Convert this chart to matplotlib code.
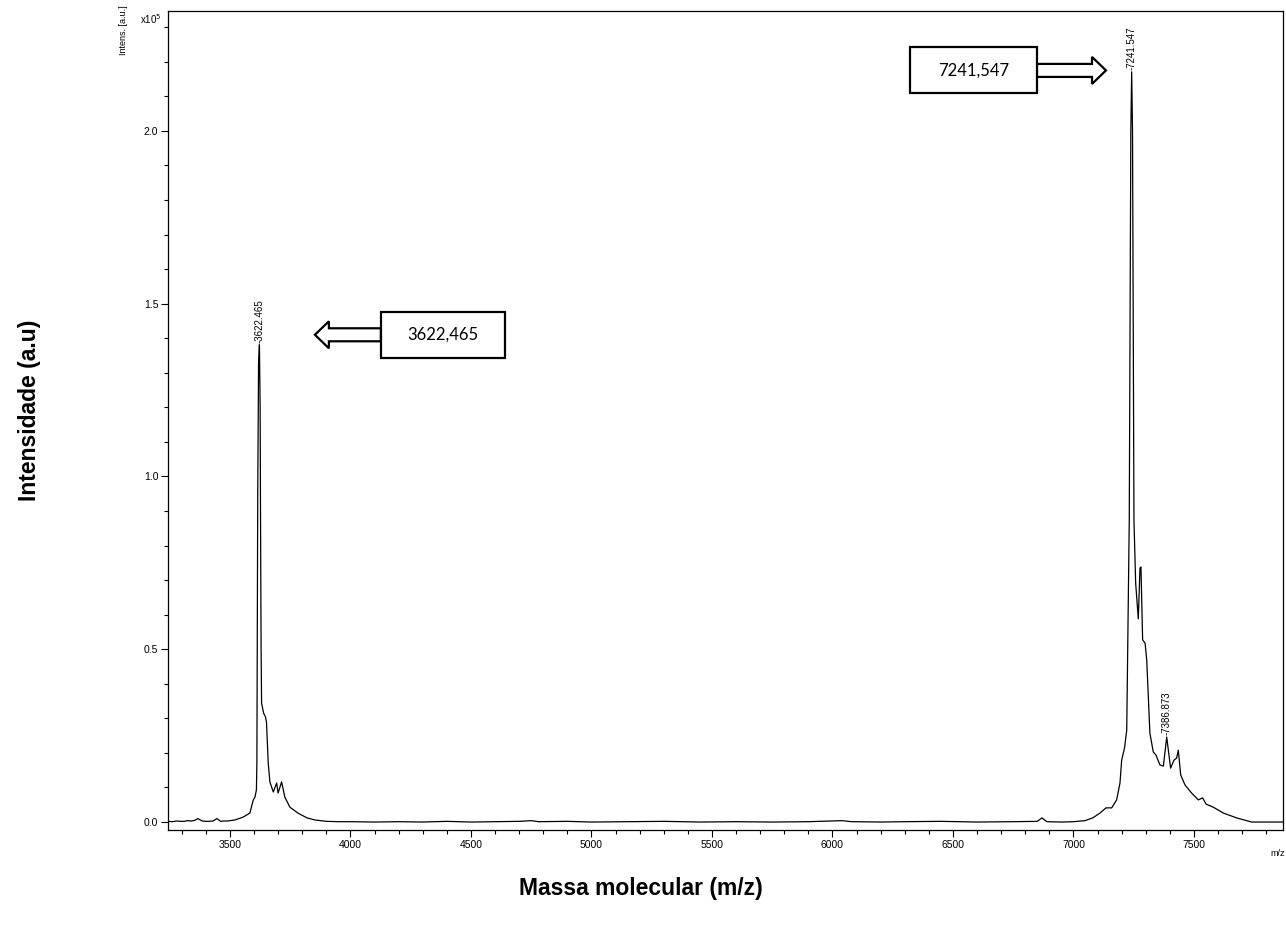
import matplotlib
matplotlib.use("Agg")
import matplotlib.pyplot as plt
from matplotlib.patches import Rectangle, FancyArrow
from matplotlib.ticker import MultipleLocator, FormatStrFormatter

# spectrum trace, m/z vs intensity (x10^5 a.u.)
mz = [3243, 3260, 3280, 3295, 3310, 3325, 3340, 3355, 3367, 3385, 3400, 3410,
      3430, 3446, 3462, 3475, 3490, 3521, 3554, 3583, 3597, 3604, 3610, 3612,
      3615.5, 3619, 3622.5, 3625.5, 3627, 3629.5, 3631.5, 3640, 3648, 3652,
      3659, 3666, 3680, 3694, 3700, 3714.5, 3728, 3749, 3782, 3820, 3853,
      3900, 3950, 4000, 4100, 4200, 4300, 4400, 4500, 4600, 4700, 4750, 4780,
      4900, 5000, 5150, 5300, 5450, 5600, 5750, 5900, 6040, 6080, 6200, 6300,
      6450, 6600, 6750, 6850, 6869, 6890, 6950, 7000, 7047.7, 7080, 7110,
      7135, 7158.5, 7179, 7193, 7200, 7212, 7221, 7231.5, 7238, 7241.5,
      7245, 7251, 7258, 7269, 7276, 7280, 7287, 7297, 7304, 7317, 7331, 7342,
      7359, 7373, 7386.9, 7403, 7417, 7428, 7435, 7445, 7463, 7490, 7518,
      7536, 7550, 7580, 7622, 7677, 7739, 7800, 7868]
intensity = [0.002, 0.001, 0.003, 0.002, 0.002, 0.004, 0.003, 0.005, 0.010,
             0.003, 0.002, 0.002, 0.003, 0.010, 0.002, 0.003, 0.003, 0.006,
             0.014, 0.026, 0.064, 0.072, 0.093, 0.17, 0.95, 1.33, 1.381, 1.2,
             0.9, 0.5, 0.344, 0.315, 0.304, 0.287, 0.171, 0.116, 0.087, 0.113,
             0.084, 0.116, 0.072, 0.043, 0.026, 0.012, 0.006, 0.002, 0.001,
             0.001, 0.0, 0.001, 0.0, 0.002, 0.0, 0.001, 0.002, 0.004, 0.001,
             0.002, 0.0, 0.001, 0.002, 0.0, 0.001, 0.0, 0.001, 0.004, 0.001,
             0.0, 0.001, 0.002, 0.0, 0.001, 0.002, 0.012, 0.001, 0.0, 0.001,
             0.004, 0.012, 0.026, 0.041, 0.041, 0.064, 0.113, 0.179, 0.215,
             0.266, 0.874, 2.0, 2.171, 2.0, 0.874, 0.692, 0.588, 0.735, 0.738,
             0.527, 0.518, 0.469, 0.258, 0.203, 0.194, 0.165, 0.162, 0.246,
             0.156, 0.179, 0.185, 0.208, 0.136, 0.107, 0.084, 0.064, 0.070,
             0.052, 0.043, 0.026, 0.012, 0.0, 0.0, 0.0]

# labelled peaks
peak_mz = [3622.465, 7241.547, 7386.873]
peak_int = [1.381, 2.171, 0.246]

# callout values written in the boxes
callout_text = ["3622,465", "7241,547"]

fig = plt.figure(figsize=(12.86, 9.31), dpi=100)
ax = fig.add_axes([0.1306, 0.1085, 0.867, 0.8797])

ax.plot(mz, intensity, color="black", lw=0.9)
ax.set_xlim(3243, 7869)
ax.set_ylim(-0.023, 2.347)

ax.xaxis.set_major_locator(MultipleLocator(500))
ax.xaxis.set_minor_locator(MultipleLocator(100))
ax.yaxis.set_major_locator(MultipleLocator(0.5))
ax.yaxis.set_minor_locator(MultipleLocator(0.1))
ax.yaxis.set_major_formatter(FormatStrFormatter("%.1f"))
ax.tick_params(which="both", direction="out", width=0.8, labelsize=7.5,
               top=False, right=False, pad=2)
ax.tick_params(which="major", length=5)
ax.tick_params(which="minor", length=3)
for lab in ax.get_xticklabels() + ax.get_yticklabels():
    lab.set_fontfamily("Liberation Sans")
for s in ax.spines.values():
    s.set_linewidth(0.9)

# peak labels above apexes
for x, y in zip(peak_mz, peak_int):
    ax.text(x, y + 0.005, "-%.3f" % x, rotation=90, ha="center", va="bottom",
            fontsize=7, family="Liberation Sans")

# boxed callouts with hollow arrows
xscale = 1 / 0.241  # m/z per pixel
yscale = 1 / 345.5  # intensity per pixel


def callout(x0, x1, yc, tip_x, text):
    h = 46 * yscale
    direction = 1 if tip_x > x1 else -1
    tail = x1 if direction > 0 else x0
    arr = FancyArrow(tail, yc, tip_x - tail, 0, width=13 * yscale,
                     head_width=27 * yscale, head_length=14 * xscale,
                     length_includes_head=True, fc="white", ec="black",
                     lw=1.6, zorder=3, joinstyle="miter")
    ax.add_patch(arr)
    ax.add_patch(Rectangle((x0, yc - h / 2), x1 - x0, h, fc="white",
                           ec="black", lw=1.6, zorder=4))
    ax.text((x0 + x1) / 2, yc, text, ha="center", va="center", fontsize=12,
            family="Lato", zorder=5)


callout(4126.5, 4641, 1.410, 3852.7, callout_text[0])
callout(6321, 6848.5, 2.175, 7135, callout_text[1])

# instrument style axis captions
fig.text(124 / 1286, 1 - 5 / 931, "Intens. [a.u.]", rotation=90, ha="center",
         va="top", fontsize=6.5, family="Liberation Sans")
fig.text(140 / 1286, 1 - 19 / 931, r"x10$^5$", ha="left", va="center",
         fontsize=7, family="Liberation Sans")
fig.text(1278 / 1286, 1 - 853 / 931, "m/z", ha="center", va="center",
         fontsize=6.5, family="Liberation Sans")

fig.text(30 / 1286, 1 - 410 / 931, "Intensidade (a.u)", rotation=90,
         ha="center", va="center", fontsize=16.5, fontweight="bold",
         family="Liberation Sans")
fig.text(641 / 1286, 1 - 888 / 931, "Massa molecular (m/z)", ha="center",
         va="center", fontsize=16.5, fontweight="bold",
         family="Liberation Sans")

fig.savefig("out.png", dpi=100)
